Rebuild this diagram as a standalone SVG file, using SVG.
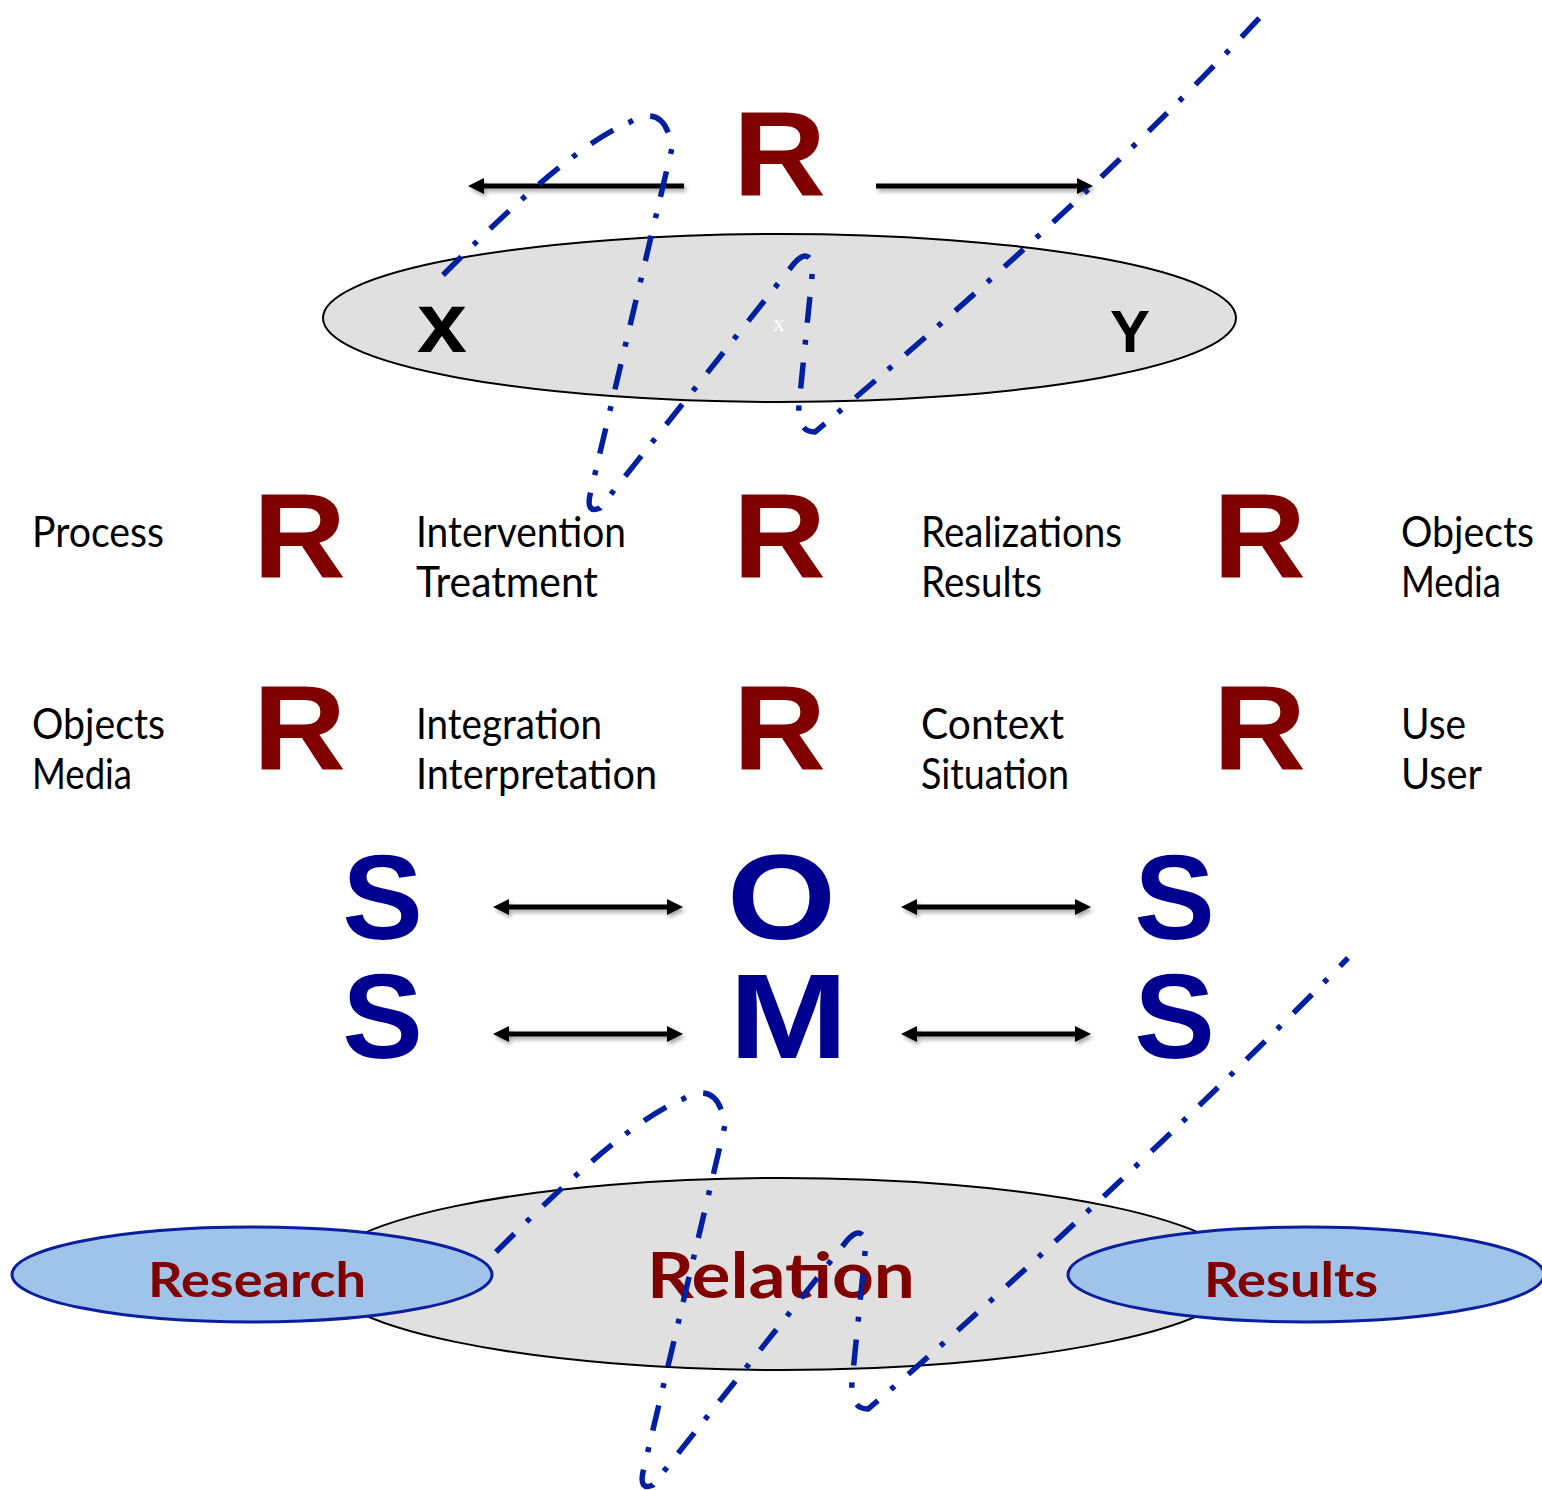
<svg xmlns="http://www.w3.org/2000/svg" width="1542" height="1490" viewBox="0 0 1542 1490">
<defs>
<style>
.lbl{font-family:Lato,"Liberation Sans",sans-serif;font-size:42px;fill:#000}
.bigR{font-family:"Liberation Sans",Arial,sans-serif;font-weight:700;font-size:120px;fill:#800000;text-anchor:middle}
.bigB{font-family:"Liberation Sans",Arial,sans-serif;font-weight:700;font-size:121px;fill:#000090;text-anchor:middle}
.xy{font-family:"Liberation Sans",Arial,sans-serif;font-weight:700;fill:#000;text-anchor:middle}
.ell{font-family:Lato,"Liberation Sans",sans-serif;font-weight:700;fill:#800000;text-anchor:middle}
.arr{stroke:#000;stroke-width:5;fill:none}
.dd{stroke:#0020A0;stroke-width:5.5;fill:none;stroke-dasharray:26 17 5 18}
</style>
<filter id="sh" filterUnits="userSpaceOnUse" x="0" y="0" width="1542" height="1490"><feDropShadow dx="2" dy="3" stdDeviation="2" flood-opacity="0.35"/></filter>
<marker id="ah" viewBox="0 0 16 16" refX="5" refY="8" markerWidth="16" markerHeight="16" markerUnits="userSpaceOnUse" orient="auto-start-reverse"><path d="M0,0 L16,8 L0,16 z" fill="#000"/></marker>
</defs>
<rect width="1542" height="1490" fill="#fff"/>

<g id="top-ellipse">
<ellipse cx="779.5" cy="318" rx="456.5" ry="84" fill="#E0E0E0" stroke="#000" stroke-width="2"/>
<text class="xy" x="442" y="352" font-size="85" textLength="50" lengthAdjust="spacingAndGlyphs">x</text>
<text class="xy" x="1130" y="352" font-size="60">Y</text>
<text x="779" y="331" font-family="'Liberation Serif',serif" font-size="24" fill="#fff" text-anchor="middle">x</text>
</g>

<g id="top-R"><text class="bigR" x="779.5" y="196" textLength="93" lengthAdjust="spacingAndGlyphs">R</text></g>

<g id="row1">
<g id="n-process"><text class="lbl" x="32" y="547" textLength="132" lengthAdjust="spacingAndGlyphs">Process</text></g>
<g id="n-R11"><text class="bigR" x="299.5" y="578" textLength="93" lengthAdjust="spacingAndGlyphs">R</text></g>
<g id="n-intervention"><text class="lbl" x="416" y="547" textLength="210" lengthAdjust="spacingAndGlyphs">Intervention</text><text class="lbl" x="416" y="597" textLength="182" lengthAdjust="spacingAndGlyphs">Treatment</text></g>
<g id="n-R12"><text class="bigR" x="779.5" y="578" textLength="93" lengthAdjust="spacingAndGlyphs">R</text></g>
<g id="n-realizations"><text class="lbl" x="921" y="547" textLength="201" lengthAdjust="spacingAndGlyphs">Realizations</text><text class="lbl" x="921" y="597" textLength="121" lengthAdjust="spacingAndGlyphs">Results</text></g>
<g id="n-R13"><text class="bigR" x="1259.5" y="578" textLength="93" lengthAdjust="spacingAndGlyphs">R</text></g>
<g id="n-objects1"><text class="lbl" x="1401" y="547" textLength="133" lengthAdjust="spacingAndGlyphs">Objects</text><text class="lbl" x="1401" y="597" textLength="100" lengthAdjust="spacingAndGlyphs">Media</text></g>
</g>

<g id="row2">
<g id="n-objects2"><text class="lbl" x="32" y="739" textLength="133" lengthAdjust="spacingAndGlyphs">Objects</text><text class="lbl" x="32" y="789" textLength="100" lengthAdjust="spacingAndGlyphs">Media</text></g>
<g id="n-R21"><text class="bigR" x="299.5" y="770" textLength="93" lengthAdjust="spacingAndGlyphs">R</text></g>
<g id="n-integration"><text class="lbl" x="416" y="739" textLength="186" lengthAdjust="spacingAndGlyphs">Integration</text><text class="lbl" x="416" y="789" textLength="241" lengthAdjust="spacingAndGlyphs">Interpretation</text></g>
<g id="n-R22"><text class="bigR" x="779.5" y="770" textLength="93" lengthAdjust="spacingAndGlyphs">R</text></g>
<g id="n-context"><text class="lbl" x="921" y="739" textLength="143" lengthAdjust="spacingAndGlyphs">Context</text><text class="lbl" x="921" y="789" textLength="148" lengthAdjust="spacingAndGlyphs">Situation</text></g>
<g id="n-R23"><text class="bigR" x="1259.5" y="770" textLength="93" lengthAdjust="spacingAndGlyphs">R</text></g>
<g id="n-use"><text class="lbl" x="1401" y="739" textLength="65" lengthAdjust="spacingAndGlyphs">Use</text><text class="lbl" x="1401" y="789" textLength="81" lengthAdjust="spacingAndGlyphs">User</text></g>
</g>

<g id="soms">
<g id="n-S1"><text class="bigB" x="382.5" y="939">S</text></g>
<g id="n-O"><text class="bigB" x="781.5" y="939" textLength="109" lengthAdjust="spacingAndGlyphs">O</text></g>
<g id="n-S2"><text class="bigB" x="1174.5" y="939">S</text></g>
<g id="n-S3"><text class="bigB" x="382.5" y="1058">S</text></g>
<g id="n-M"><text class="bigB" x="788.5" y="1058" textLength="119" lengthAdjust="spacingAndGlyphs">M</text></g>
<g id="n-S4"><text class="bigB" x="1174.5" y="1058">S</text></g>
</g>

<g id="bottom-ellipses">
<g id="n-relation">
<ellipse cx="782" cy="1274" rx="462" ry="96" fill="#E0E0E0" stroke="#000" stroke-width="2"/>
<text class="ell" x="781" y="1298" font-size="64" textLength="268" lengthAdjust="spacingAndGlyphs">Relation</text>
</g>
<g id="n-research">
<ellipse cx="252" cy="1274.5" rx="240" ry="47.5" fill="#9FC3E9" stroke="#0A1E9E" stroke-width="3"/>
<text class="ell" x="257" y="1297" font-size="48" textLength="218" lengthAdjust="spacingAndGlyphs">Research</text>
</g>
<g id="n-results">
<ellipse cx="1306" cy="1274.5" rx="238" ry="47.5" fill="#9FC3E9" stroke="#0A1E9E" stroke-width="3"/>
<text class="ell" x="1291" y="1297" font-size="48" textLength="174" lengthAdjust="spacingAndGlyphs">Results</text>
</g>
</g>

<g id="connectors">
<g filter="url(#sh)">
<line class="arr" x1="684" y1="186" x2="479" y2="186" marker-end="url(#ah)"/>
<line class="arr" x1="876" y1="186" x2="1082" y2="186" marker-end="url(#ah)"/>
<line class="arr" x1="504" y1="907" x2="672" y2="907" marker-start="url(#ah)" marker-end="url(#ah)"/>
<line class="arr" x1="912" y1="907" x2="1080" y2="907" marker-start="url(#ah)" marker-end="url(#ah)"/>
<line class="arr" x1="504" y1="1034" x2="672" y2="1034" marker-start="url(#ah)" marker-end="url(#ah)"/>
<line class="arr" x1="912" y1="1034" x2="1080" y2="1034" marker-start="url(#ah)" marker-end="url(#ah)"/>
</g>
<path class="dd" d="M443,275 C500,218 575,145 630,122 Q665,102 672,148 L590,495 Q586,514 600,508 L792,266 Q808,246 813,266 L799,405 Q797,432 815,432 C900,360 1100,190 1265,12"/>
<path class="dd" transform="translate(53,977)" d="M443,275 C500,218 575,145 630,122 Q665,102 672,148 L590,495 Q586,514 600,508 L792,266 Q808,246 813,266 L799,405 Q797,432 815,432 C900,360 1110,170 1295,-19"/>
</g>
</svg>
